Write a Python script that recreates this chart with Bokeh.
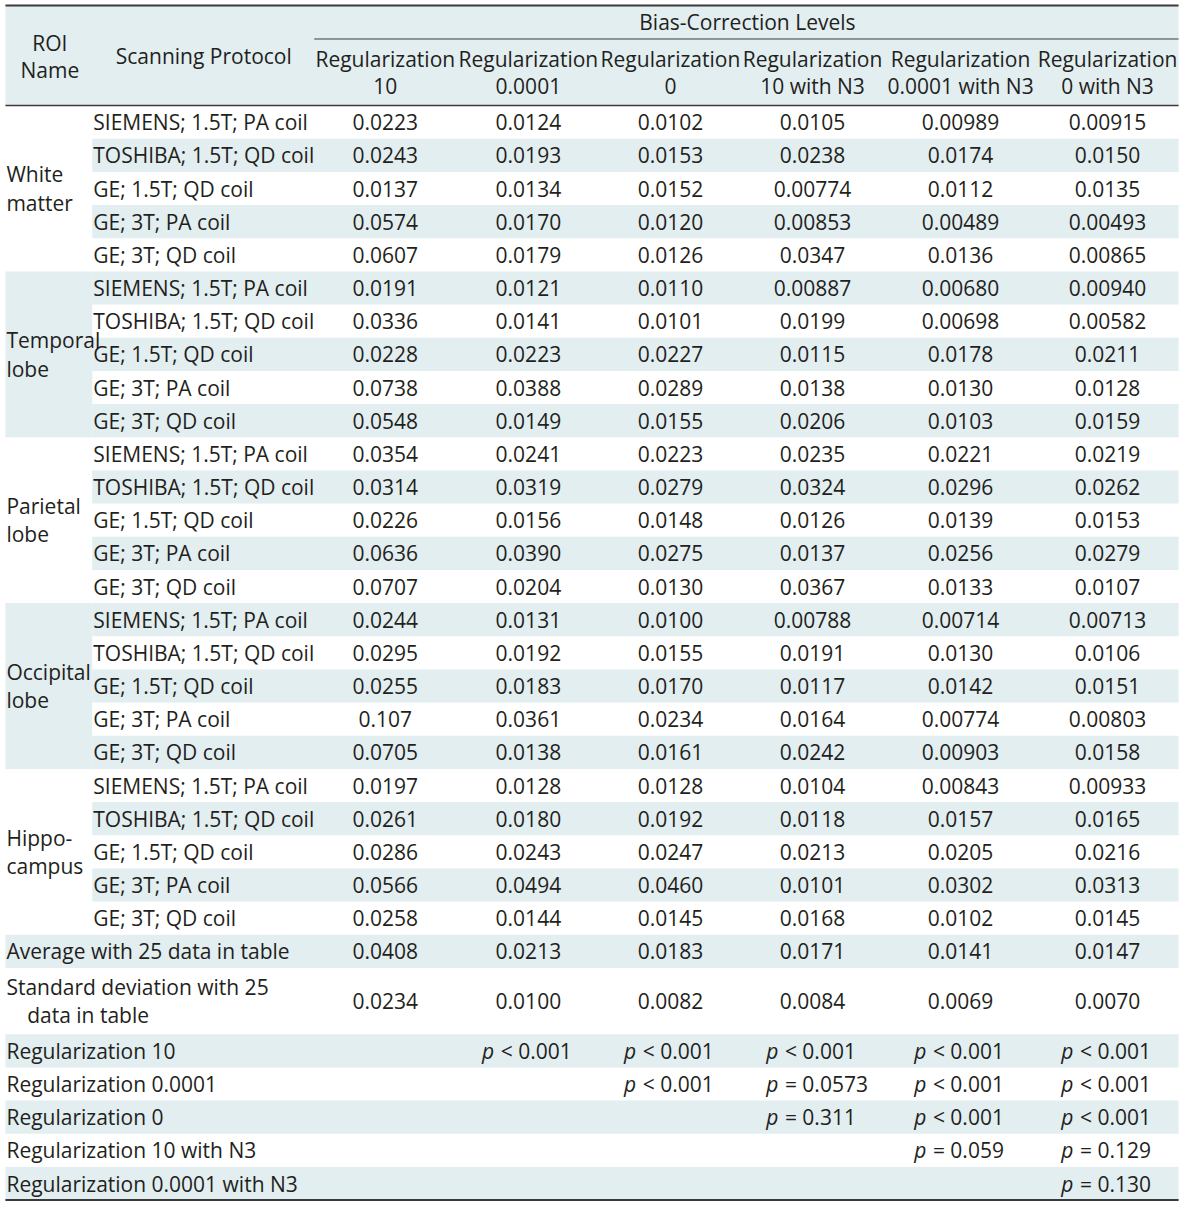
from bokeh.plotting import figure
from bokeh.models import Range1d, ColumnDataSource
from bokeh.core.properties import value
from bokeh.embed import file_html
from bokeh.resources import INLINE

# ---------------- data ----------------
roi_lines = [["White", "matter"], ["Temporal", "lobe"], ["Parietal", "lobe"],
             ["Occipital", "lobe"], ["Hippo-", "campus"]]
protocols = ["SIEMENS; 1.5T; PA coil", "TOSHIBA; 1.5T; QD coil", "GE; 1.5T; QD coil",
             "GE; 3T; PA coil", "GE; 3T; QD coil"]
header_top = ["Regularization"] * 6
header_bottom = ["10", "0.0001", "0", "10 with N3", "0.0001 with N3", "0 with N3"]

reg10 = ["0.0223", "0.0243", "0.0137", "0.0574", "0.0607",
         "0.0191", "0.0336", "0.0228", "0.0738", "0.0548",
         "0.0354", "0.0314", "0.0226", "0.0636", "0.0707",
         "0.0244", "0.0295", "0.0255", "0.107", "0.0705",
         "0.0197", "0.0261", "0.0286", "0.0566", "0.0258"]
reg00001 = ["0.0124", "0.0193", "0.0134", "0.0170", "0.0179",
            "0.0121", "0.0141", "0.0223", "0.0388", "0.0149",
            "0.0241", "0.0319", "0.0156", "0.0390", "0.0204",
            "0.0131", "0.0192", "0.0183", "0.0361", "0.0138",
            "0.0128", "0.0180", "0.0243", "0.0494", "0.0144"]
reg0 = ["0.0102", "0.0153", "0.0152", "0.0120", "0.0126",
        "0.0110", "0.0101", "0.0227", "0.0289", "0.0155",
        "0.0223", "0.0279", "0.0148", "0.0275", "0.0130",
        "0.0100", "0.0155", "0.0170", "0.0234", "0.0161",
        "0.0128", "0.0192", "0.0247", "0.0460", "0.0145"]
reg10_n3 = ["0.0105", "0.0238", "0.00774", "0.00853", "0.0347",
            "0.00887", "0.0199", "0.0115", "0.0138", "0.0206",
            "0.0235", "0.0324", "0.0126", "0.0137", "0.0367",
            "0.00788", "0.0191", "0.0117", "0.0164", "0.0242",
            "0.0104", "0.0118", "0.0213", "0.0101", "0.0168"]
reg00001_n3 = ["0.00989", "0.0174", "0.0112", "0.00489", "0.0136",
               "0.00680", "0.00698", "0.0178", "0.0130", "0.0103",
               "0.0221", "0.0296", "0.0139", "0.0256", "0.0133",
               "0.00714", "0.0130", "0.0142", "0.00774", "0.00903",
               "0.00843", "0.0157", "0.0205", "0.0302", "0.0102"]
reg0_n3 = ["0.00915", "0.0150", "0.0135", "0.00493", "0.00865",
           "0.00940", "0.00582", "0.0211", "0.0128", "0.0159",
           "0.0219", "0.0262", "0.0153", "0.0279", "0.0107",
           "0.00713", "0.0106", "0.0151", "0.00803", "0.0158",
           "0.00933", "0.0165", "0.0216", "0.0313", "0.0145"]
average = ["0.0408", "0.0213", "0.0183", "0.0171", "0.0141", "0.0147"]
std_dev = ["0.0234", "0.0100", "0.0082", "0.0084", "0.0069", "0.0070"]

cmp_labels = ["Regularization 10", "Regularization 0.0001", "Regularization 0",
              "Regularization 10 with N3", "Regularization 0.0001 with N3"]
cmp_values = [
    [None, "< 0.001", "< 0.001", "< 0.001", "< 0.001", "< 0.001"],
    [None, None, "< 0.001", "= 0.0573", "< 0.001", "< 0.001"],
    [None, None, None, "= 0.311", "< 0.001", "< 0.001"],
    [None, None, None, None, "= 0.059", "= 0.129"],
    [None, None, None, None, None, "= 0.130"],
]

columns = [reg10, reg00001, reg0, reg10_n3, reg00001_n3, reg0_n3]

# ---------------- layout (reference pixel space) ----------------
FONT = "Open Sans"
FS = "21px"
TXT = "#231f20"
SHADE = "#e2eef0"
LINE = "#3a3a3a"
X0, X1 = 5, 1194
XPROT = 93
col_cx = [390, 535, 679, 823, 973, 1122]
TOP, HB = 5, 106.5
RH = (1215.5 - HB) / 33.0

p = figure(width=1184, height=1206, x_range=Range1d(0, 1200), y_range=Range1d(1222, 0),
           output_backend="svg", toolbar_location=None, min_border=0,
           outline_line_color=None, background_fill_color="white")
p.axis.visible = False
p.grid.visible = False

def row_top(unit):
    return HB + unit * RH

# shading
qs = dict(left=[], right=[], top=[], bottom=[])
def add_q(l, r, t, b):
    qs["left"].append(l); qs["right"].append(r); qs["top"].append(t); qs["bottom"].append(b)

add_q(X0, X1, TOP, HB)  # header
for i in range(25):
    if i % 2 == 1:
        add_q(XPROT, X1, row_top(i), row_top(i + 1))
for g in (1, 3):
    add_q(X0, XPROT, row_top(5 * g), row_top(5 * g + 5))
# average row (unit 25)
add_q(X0, X1, row_top(25), row_top(26))
# comparison rows start at unit 28
for k in range(5):
    if k % 2 == 0:
        add_q(X0, X1, row_top(28 + k), row_top(29 + k))
p.quad(source=ColumnDataSource(qs), left="left", right="right", top="top", bottom="bottom",
       fill_color=SHADE, line_color=None)

# rules
p.segment(x0=[X0, 318, X0, X0], x1=[X1, X1, X1, X1], y0=[TOP, 39, HB, 1215.5],
          y1=[TOP, 39, HB, 1215.5], line_color=LINE,
          line_width=[2, 1, 1.5, 2])

def txt(xs, ys, texts, align="left", style="normal", font=FONT):
    src = ColumnDataSource(dict(x=xs, y=ys, t=texts))
    p.text(x="x", y="y", text="t", source=src, text_font=value(font),
           text_font_size=FS, text_color=TXT, text_align=align,
           text_baseline="middle", text_font_style=style)

# header texts
txt([50, 50], [43, 70], ["ROI", "Name"], align="center")
txt([206], [56], ["Scanning Protocol"], align="center")
txt([757], [22], ["Bias-Correction Levels"], align="center")
txt(col_cx, [59] * 6, header_top, align="center")
txt(col_cx, [87] * 6, header_bottom, align="center")

# ROI names
rx, ry, rt = [], [], []
for g, lines in enumerate(roi_lines):
    cy = row_top(5 * g + 2.5)
    rx += [6, 6]; ry += [cy - 14.5, cy + 14.5]; rt += lines
txt(rx, ry, rt)

# protocols and values
px, py, pt = [], [], []
vx, vy, vt = [], [], []
for i in range(25):
    cy = row_top(i + 0.5)
    px.append(XPROT + 1); py.append(cy); pt.append(protocols[i % 5])
    for c, col in enumerate(columns):
        vx.append(col_cx[c]); vy.append(cy); vt.append(col[i])
txt(px, py, pt)

# average / std
cy_avg = row_top(25.5)
cy_std = row_top(27)
txt([6], [cy_avg], ["Average with 25 data in table"])
txt([6, 27], [cy_std - 14.5, cy_std + 14.5], ["Standard deviation with 25", "data in table"])
for c in range(6):
    vx += [col_cx[c], col_cx[c]]; vy += [cy_avg, cy_std]; vt += [average[c], std_dev[c]]
txt(vx, vy, vt, align="center")

# comparisons
cx_, cy_, ct_ = [], [], []
ix, iy, it = [], [], []
rest_x, rest_y, rest_t = [], [], []
for k, lab in enumerate(cmp_labels):
    cy = row_top(28 + k + 0.5)
    cx_.append(6); cy_.append(cy); ct_.append(lab)
    for c, v in enumerate(cmp_values[k]):
        if v is None:
            continue
        ix.append(col_cx[c] - 47); iy.append(cy); it.append("p")
        rest_x.append(col_cx[c] - 28); rest_y.append(cy); rest_t.append(v)
txt(cx_, cy_, ct_)
txt(ix, iy, it, style="italic")
txt(rest_x, rest_y, rest_t)

open("out.html", "w").write(file_html(p, INLINE))
